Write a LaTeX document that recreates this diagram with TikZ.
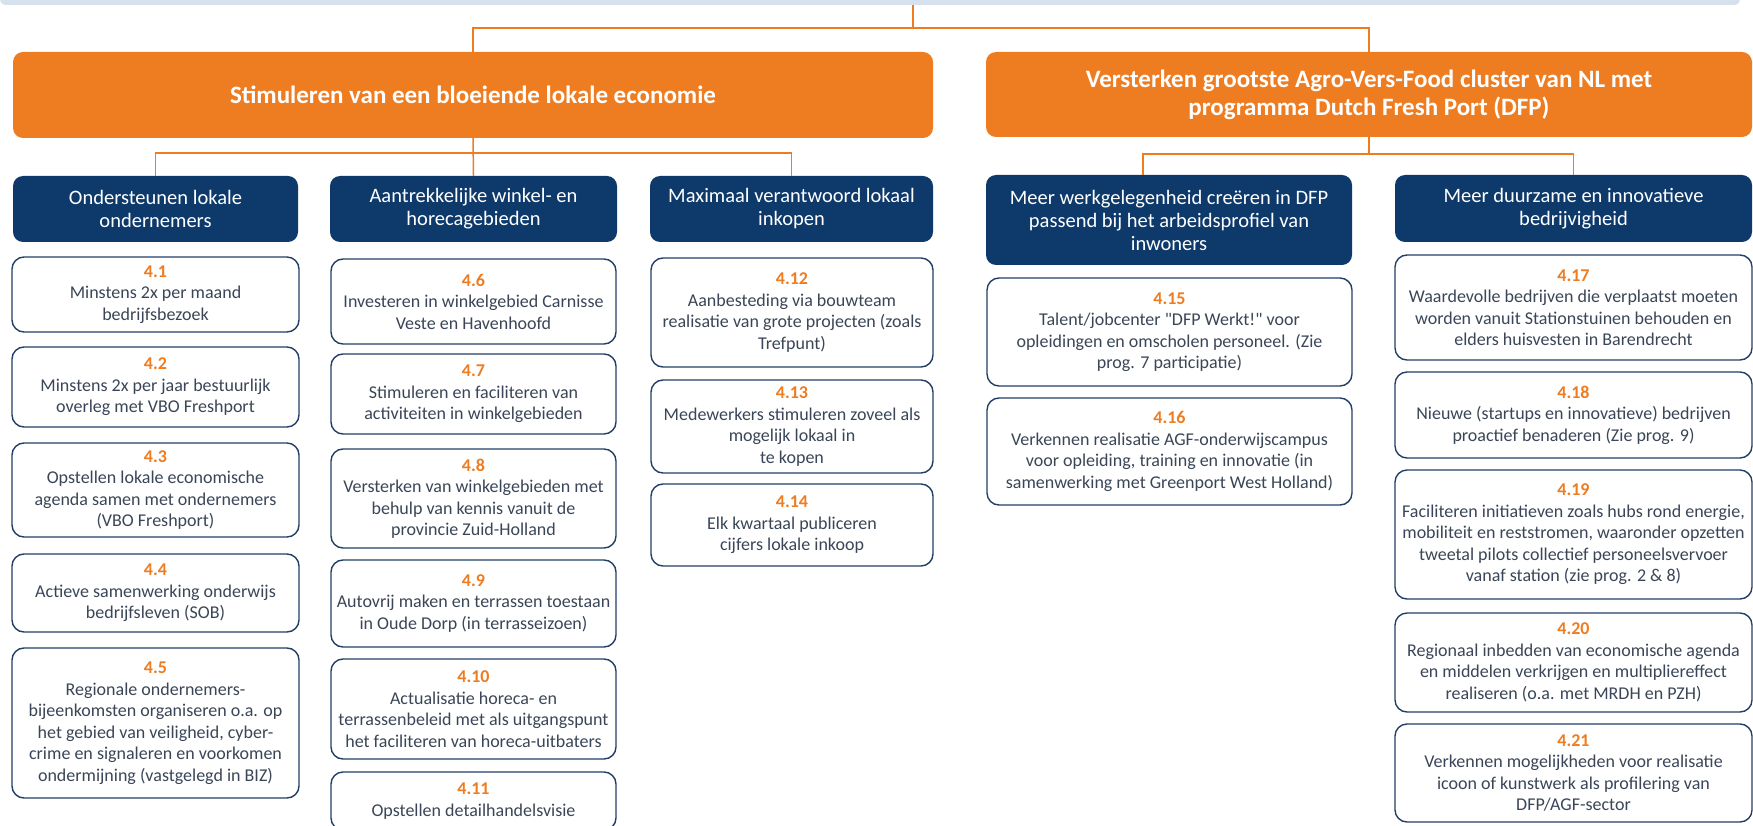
\documentclass[tikz,border=0pt]{standalone}
\usepackage{fontspec}
\setmainfont{Carlito}[Ligatures=TeXOff]
\definecolor{dfporange}{HTML}{EE7D22}
\definecolor{navy}{HTML}{0E3A6B}
\definecolor{actborder}{HTML}{223F66}
\definecolor{acttext}{HTML}{3A4657}
\definecolor{band}{HTML}{D6E1EE}
\newcommand{\actnr}[1]{{\color{dfporange}\bfseries #1}}

\begin{document}
\begin{tikzpicture}[x=1pt,y=-1pt]
\tikzstyle{every node}=[align=center, inner sep=2pt]
\tikzstyle{head}=[fill=dfporange, rounded corners=10pt, text=white, font=\fontsize{25}{28}\selectfont\bfseries]
\tikzstyle{goal}=[fill=navy, rounded corners=10pt, text=white, font=\fontsize{20.5}{23}\selectfont]
\tikzstyle{act}=[draw=actborder, line width=1.4pt, fill=white, rounded corners=12pt, text=acttext, font=\fontsize{18}{21.5}\selectfont]
\tikzstyle{link}=[draw=dfporange, line width=1.5pt]
\useasboundingbox (0,0) rectangle (1753,826);
\clip (0,0) rectangle (1753,826);
\draw (870,-5) node (top) [fill=band, rounded corners=6pt, minimum width=1740pt, minimum height=20pt] {};
\draw (473,95) node (o1) [head, minimum width=920pt, minimum height=86pt] {Stimuleren van een bloeiende lokale economie};
\draw (1369,94.5) node (o2) [head, minimum width=766pt, minimum height=85pt] {Versterken grootste Agro-Vers-Food cluster van NL met\\programma Dutch Fresh Port (DFP)};
\draw (155.5,209) node (b1) [goal, minimum width=285pt, minimum height=66pt] {Ondersteunen lokale\\ondernemers};
\draw (473.5,209) node (b2) [goal, minimum width=287pt, minimum height=66pt] {Aantrekkelijke winkel- en\\horecagebieden};
\draw (791.5,209) node (b3) [goal, minimum width=283pt, minimum height=66pt] {Maximaal verantwoord lokaal\\inkopen};
\draw (1169,220) node (b4) [goal, minimum width=366pt, minimum height=90pt] {Meer werkgelegenheid creëren in DFP\\passend bij het arbeidsprofiel van\\inwoners};
\draw (1573.5,208.5) node (b5) [goal, minimum width=357pt, minimum height=67pt] {Meer duurzame en innovatieve\\bedrijvigheid};
\draw (155.5,294.5) node (a1) [act, minimum width=287pt, minimum height=75pt] {\actnr{4.1}\\Minstens 2x per maand\\bedrijfsbezoek};
\draw (155.5,387) node (a2) [act, minimum width=287pt, minimum height=80pt] {\actnr{4.2}\\Minstens 2x per jaar bestuurlijk\\overleg met VBO Freshport};
\draw (155.5,490) node (a3) [act, minimum width=287pt, minimum height=94pt] {\actnr{4.3}\\Opstellen lokale economische\\agenda samen met ondernemers\\(VBO Freshport)};
\draw (155.5,593) node (a4) [act, minimum width=287pt, minimum height=78pt] {\actnr{4.4}\\Actieve samenwerking onderwijs\\bedrijfsleven (SOB)};
\draw (155.5,723) node (a5) [act, minimum width=287pt, minimum height=150pt] {\actnr{4.5}\\Regionale ondernemers-\\bijeenkomsten organiseren o.a. op\\het gebied van veiligheid, cyber-\\crime en signaleren en voorkomen\\ondermijning (vastgelegd in BIZ)};
\draw (473.5,301.5) node (a6) [act, minimum width=285pt, minimum height=85pt] {\actnr{4.6}\\Investeren in winkelgebied Carnisse\\Veste en Havenhoofd};
\draw (473.5,394) node (a7) [act, minimum width=285pt, minimum height=80pt] {\actnr{4.7}\\Stimuleren en faciliteren van\\activiteiten in winkelgebieden};
\draw (473.5,498.5) node (a8) [act, minimum width=285pt, minimum height=99pt] {\actnr{4.8}\\Versterken van winkelgebieden met\\behulp van kennis vanuit de\\provincie Zuid-Holland};
\draw (473.5,603.5) node (a9) [act, minimum width=285pt, minimum height=87pt] {\actnr{4.9}\\Autovrij maken en terrassen toestaan\\in Oude Dorp (in terrasseizoen)};
\draw (473.5,709) node (a10) [act, minimum width=285pt, minimum height=100pt] {\actnr{4.10}\\Actualisatie horeca- en\\terrassenbeleid met als uitgangspunt\\het faciliteren van horeca-uitbaters};
\draw (473.5,801) node (a11) [act, minimum width=285pt, minimum height=58pt] {\actnr{4.11}\\Opstellen detailhandelsvisie};
\draw (792,312.5) node (a12) [act, minimum width=282pt, minimum height=109pt] {\actnr{4.12}\\Aanbesteding via bouwteam\\realisatie van grote projecten (zoals\\Trefpunt)};
\draw (792,426.5) node (a13) [act, minimum width=282pt, minimum height=93pt] {\actnr{4.13}\\Medewerkers stimuleren zoveel als\\mogelijk lokaal in\\te kopen};
\draw (792,525) node (a14) [act, minimum width=282pt, minimum height=82pt] {\actnr{4.14}\\Elk kwartaal publiceren\\cijfers lokale inkoop};
\draw (1169.5,332) node (a15) [act, minimum width=365pt, minimum height=108pt] {\actnr{4.15}\\Talent/jobcenter "DFP Werkt!" voor\\opleidingen en omscholen personeel. (Zie\\prog. 7 participatie)};
\draw (1169.5,451.5) node (a16) [act, minimum width=365pt, minimum height=107pt] {\actnr{4.16}\\Verkennen realisatie AGF-onderwijscampus\\voor opleiding, training en innovatie (in\\samenwerking met Greenport West Holland)};
\draw (1573.5,307.5) node (a17) [act, minimum width=357pt, minimum height=105pt] {\actnr{4.17}\\Waardevolle bedrijven die verplaatst moeten\\worden vanuit Stationstuinen behouden en\\elders huisvesten in Barendrecht};
\draw (1573.5,415) node (a18) [act, minimum width=357pt, minimum height=86pt] {\actnr{4.18}\\Nieuwe (startups en innovatieve) bedrijven\\proactief benaderen (Zie prog. 9)};
\draw (1573.5,534.5) node (a19) [act, minimum width=357pt, minimum height=129pt] {\actnr{4.19}\\Faciliteren initiatieven zoals hubs rond energie,\\mobiliteit en reststromen, waaronder opzetten\\tweetal pilots collectief personeelsvervoer\\vanaf station (zie prog. 2 \& 8)};
\draw (1573.5,662.5) node (a20) [act, minimum width=357pt, minimum height=99pt] {\actnr{4.20}\\Regionaal inbedden van economische agenda\\en middelen verkrijgen en multipliereffect\\realiseren (o.a. met MRDH en PZH)};
\draw (1573.5,773) node (a21) [act, minimum width=357pt, minimum height=98pt] {\actnr{4.21}\\Verkennen mogelijkheden voor realisatie\\icoon of kunstwerk als profilering van\\DFP/AGF-sector};
\coordinate (t) at (913,28);
\coordinate (s1) at (473,153);
\coordinate (s2) at (1372,154);
\draw[link] (t |- top.south) -- (t);
\draw[link] (o1.north) |- (t) -| (o2.north);
\draw[link] (o1.south) -- (b2.north);
\draw[link] (b1.north) |- (s1) -| (b3.north);
\draw[link] (o2.south) -- (o2.south |- s2);
\draw[link] ([xshift=-26pt]b4.north) |- (s2) -| (b5.north);
\end{tikzpicture}
\end{document}
